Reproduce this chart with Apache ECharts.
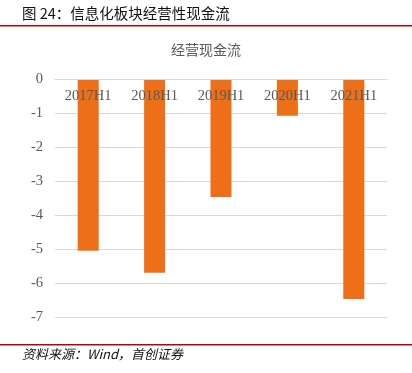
<!DOCTYPE html>
<html><head><meta charset="utf-8">
<script src="https://cdn.jsdelivr.net/npm/echarts@6/dist/echarts.min.js"></script>
<style>html,body{margin:0;padding:0;background:#fff;}#c{width:412px;height:373px;}</style>
</head><body><div id="c"></div>
<script>
var categories = ['2017H1','2018H1','2019H1','2020H1','2021H1'];
var cashFlow = [-5.05, -5.70, -3.47, -1.08, -6.47];
var yTicks = {min: -7, max: 0, interval: 1};

var chart = echarts.init(document.getElementById('c'));
chart.setOption({
  animation: false,
  backgroundColor: '#fff',
  title: {
    text: '经营现金流', left: 'center', top: 38,
    textStyle: {fontFamily: 'Noto Sans CJK SC', fontSize: 14, fontWeight: 'normal', color: '#595959'}
  },
  graphic: [
    {type: 'text', left: 22, top: 6, style: {text: '图 24：信息化板块经营性现金流', font: 'normal 14.5px "Noto Sans CJK SC"', fill: '#111'}},
    {type: 'rect', left: 0, top: 25, shape: {width: 412, height: 1.5}, style: {fill: '#c00000'}},
    {type: 'rect', left: 0, top: 344, shape: {width: 412, height: 1.5}, style: {fill: '#c00000'}},
    {type: 'text', left: 22, top: 348, style: {text: '资料来源：Wind，首创证券', font: 'italic 13px "Noto Sans CJK SC"', fill: '#111'}}
  ],
  grid: {left: 55, right: 25, top: 79, bottom: 56},
  xAxis: {
    type: 'category', data: categories, z: 10, position: 'top',
    axisLine: {lineStyle: {color: '#d9d9d9'}},
    axisTick: {show: false},
    axisLabel: {inside: true, margin: 10, color: '#595959', fontFamily: 'Liberation Serif', fontSize: 14.5}
  },
  yAxis: {
    type: 'value', min: yTicks.min, max: yTicks.max, interval: yTicks.interval,
    axisLine: {show: false}, axisTick: {show: false},
    splitLine: {lineStyle: {color: '#d9d9d9', width: 1}},
    axisLabel: {margin: 12, color: '#595959', fontFamily: 'Liberation Serif', fontSize: 14.5}
  },
  series: [{
    type: 'bar', data: cashFlow, barWidth: 21,
    itemStyle: {color: '#ED6F17'}
  }]
});
</script></body></html>
